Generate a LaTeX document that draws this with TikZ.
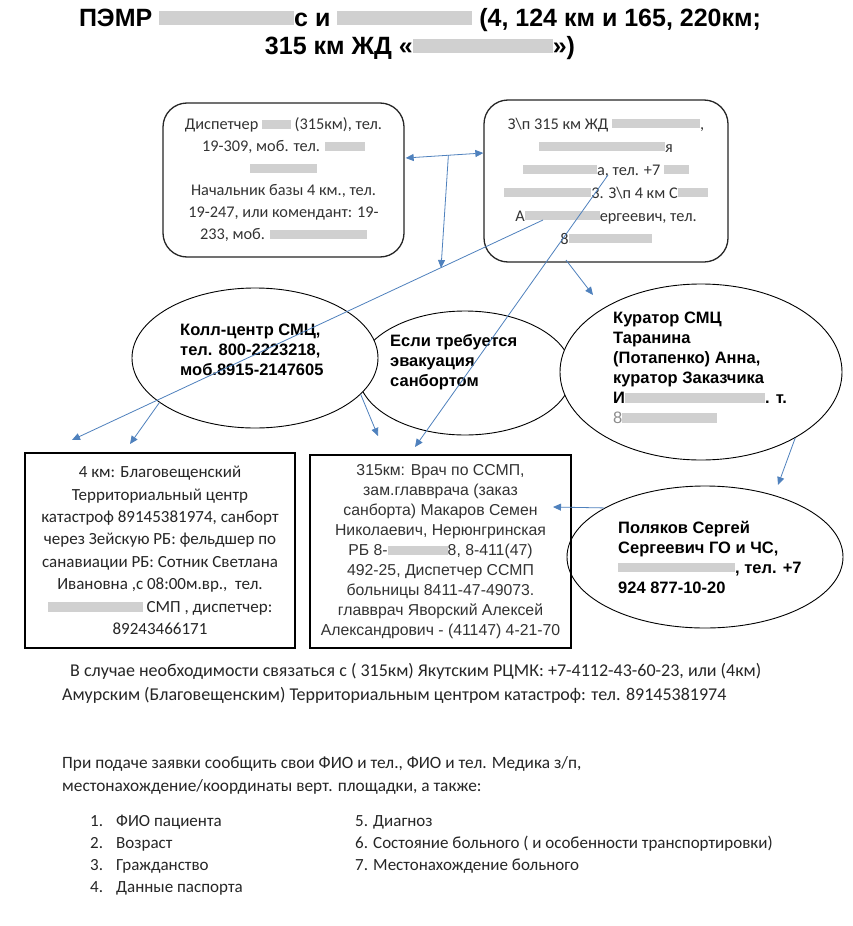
\documentclass[tikz,border=0pt]{standalone}
\usepackage{fontspec}
\setmainfont{Carlito}
\newfontfamily\arialf{Liberation Sans}
\usetikzlibrary{shapes.geometric,arrows.meta,calc}
\definecolor{linkblue}{RGB}{79,129,189}
\definecolor{smudge}{RGB}{208,208,208}
\newcommand{\blr}[1]{\textcolor{smudge}{\rule[0.04em]{#1pt}{0.58em}}}

\tikzset{
  infobox/.style={draw=black!85, line width=1.3pt, rounded corners=24pt, align=center,
    text=black!80, font=\fontsize{16.3}{22}\selectfont},
  framebox/.style={draw=black, line width=2pt, align=center},
  oval/.style={ellipse, draw, line width=0.9pt, fill=white, inner sep=0pt},
  ovaltext/.style={anchor=west, align=left, inner sep=0pt,
    font=\arialf\bfseries\fontsize{16.5}{20}\selectfont},
  note/.style={anchor=west, align=left, inner sep=0pt, text=black!85,
    font=\fontsize{18}{24}\selectfont},
  link/.style={linkblue, line width=0.8pt, -{Triangle[length=8pt,width=7pt]}},
}

\begin{document}
\begin{tikzpicture}[x=1pt,y=-1pt]
\useasboundingbox[fill=white] (0,0) rectangle (852,926);

\node[align=center, font=\arialf\bfseries\fontsize{25}{28}\selectfont] (title) at (420,34)
  {ПЭМР \blr{135}с и \blr{135} (4, 124 км и 165, 220км;\\315 км ЖД «\blr{140}»)};

% upper boxes
\node[infobox, minimum width=241, minimum height=154] (disp) at (283.5,180)
  {Диспетчер \blr{29} (315км), тел.\\19-309, моб. тел. \blr{40}\\\blr{67}\\
   Начальник базы 4 км., тел.\\19-247, или комендант: 19-\\233, моб. \blr{97}};
\node[infobox, minimum width=244, minimum height=162, font=\fontsize{16.3}{23}\selectfont] (zp) at (606,181)
  {З\textbackslash п 315 км ЖД \blr{88},\\\blr{126}я\\\blr{74}а, тел. +7 \blr{25}\\
   \blr{87}3. З\textbackslash п 4 км С\blr{30}\\А\blr{75}ергеевич, тел.\\8\blr{83}};

% ovals
\node[oval, minimum width=214, minimum height=124] (evac) at (465,373) {};
\node[oval, minimum width=246, minimum height=140] (call) at (255,358) {};
\node[oval, minimum width=282, minimum height=176] (cur) at (701,372) {};
\node[oval, minimum width=276, minimum height=142] (pol) at (705,557) {};

\node[ovaltext] (calltext) at (180,350) {Колл-центр СМЦ,\\тел. 800-2223218,\\моб.8915-2147605};
\node[ovaltext] (evactext) at (390,362) {Если требуется\\эвакуация\\санбортом};
\node[ovaltext] (curtext) at (613,368) {Куратор СМЦ\\Таранина\\(Потапенко) Анна,\\куратор Заказчика\\
  И\blr{140}. т.\\{\mdseries\color{black!45}8\blr{95}}};
\node[ovaltext] (poltext) at (618,557) {Поляков Сергей\\Сергеевич ГО и ЧС,\\\blr{117}, тел. +7\\924 877-10-20};

% lower boxes
\node[framebox, minimum width=270, minimum height=195, text=black!85,
  font=\fontsize{17}{22.4}\selectfont] (kat) at (160,550.5)
  {4 км: Благовещенский\\Территориальный центр\\катастроф 89145381974, санборт\\
   через Зейскую РБ: фельдшер по\\санавиации РБ: Сотник Светлана\\
   Ивановна ,с 08:00м.вр.,~ тел.\\\blr{95} СМП , диспетчер:\\89243466171};
\node[framebox, minimum width=261, minimum height=193, text=black!80,
  font=\arialf\fontsize{15.8}{20}\selectfont] (ssmp) at (440.5,551.5)
  {315км: Врач по ССМП,\\зам.главврача (заказ\\санборта) Макаров Семен\\
   Николаевич, Нерюнгринская\\РБ 8-\blr{60}8, 8-411(47)\\492-25, Диспетчер ССМП\\
   больницы 8411-47-49073.\\главврач Яворский Алексей\\Александрович - (41147) 4-21-70};

% notes
\node[note] (notea) at (62,683)
  {\hspace*{8pt}В случае необходимости связаться с ( 315км) Якутским РЦМК: +7-4112-43-60-23, или (4км)\\
   Амурским (Благовещенским) Территориальным центром катастроф: тел. 89145381974};
\node[note, font=\fontsize{17.3}{23}\selectfont] (noteb) at (62,775.5)
  {При подаче заявки сообщить свои ФИО и тел., ФИО и тел. Медика з/п,\\
   местонахождение/координаты верт. площадки, а также:};
\node[note, font=\fontsize{17}{22}\selectfont] (lista) at (90,855)
  {\makebox[26pt][l]{1.}ФИО пациента\\\makebox[26pt][l]{2.}Возраст\\
   \makebox[26pt][l]{3.}Гражданство\\\makebox[26pt][l]{4.}Данные паспорта};
\node[note, font=\fontsize{17}{22}\selectfont] (listb) at (355,844)
  {5. Диагноз\\6. Состояние больного ( и особенности транспортировки)\\7. Местонахождение больного};

% connectors
\coordinate (dispE) at ($(disp.east)+(1,-22)$);
\coordinate (zpW) at ($(zp.west)+(0,-28)$);
\coordinate (drop) at (441,268);
\coordinate (zpA) at (543,220);
\coordinate (zpB) at (608,175);
\coordinate (zpC) at (566,260);
\coordinate (katA) at (72,440);
\coordinate (katB) at (130,444);
\coordinate (ssmpA) at (378,436);
\coordinate (ssmpB) at (415,447);
\coordinate (ssmpC) at (553,507);
\coordinate (curA) at (593,295);
\coordinate (polA) at (778,485);

\draw[link, {Triangle[length=8pt,width=7pt]}-{Triangle[length=8pt,width=7pt]}] (dispE) -- (zpW);
\draw[link] ($(dispE)!0.55!(zpW)$) -- (drop);
\draw[link] (zpA) -- (katA);
\draw[link] (call.205) -- (katB);
\draw[link] (call.-19) -- (ssmpA);
\draw[link] (zpB) -- (ssmpB);
\draw[link] (zpC) -- (curA);
\draw[link] (cur.-35) -- (polA);
\draw[link] (pol.154) -- (ssmpC);
\end{tikzpicture}
\end{document}
